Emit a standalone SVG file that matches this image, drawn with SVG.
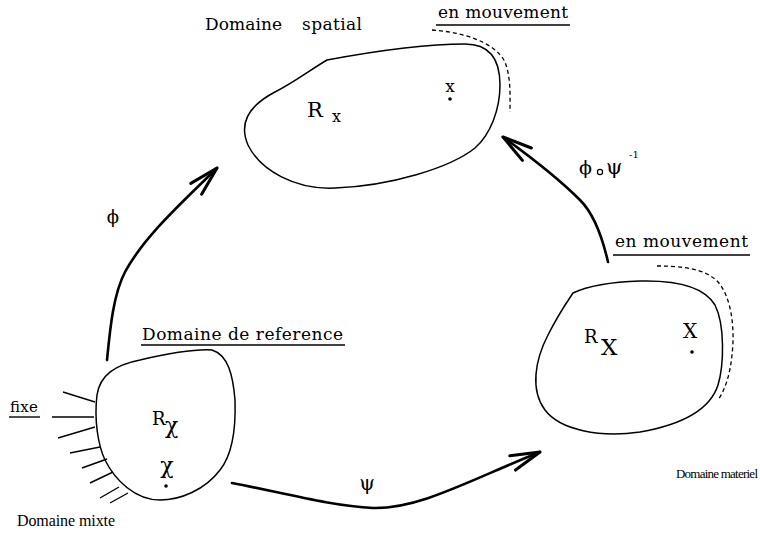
<svg xmlns="http://www.w3.org/2000/svg" width="760" height="534" viewBox="0 0 760 534">
<style>
.blob{fill:none;stroke:#000;stroke-width:1.5}
.dash{fill:none;stroke:#000;stroke-width:1.3;stroke-dasharray:4 3}
.arr{fill:none;stroke:#000;stroke-width:2.6;stroke-linecap:round;marker-end:url(#ah)}
.hatch{stroke:#000;stroke-width:1.4}
.ul{stroke:#000;stroke-width:1.4}
text{font-family:"DejaVu Serif","Liberation Serif",serif;fill:#000}
.t{font-size:17px}
.s{font-family:"Liberation Serif","DejaVu Serif",serif}
</style>
<defs>
<marker id="ah" markerUnits="userSpaceOnUse" markerWidth="40" markerHeight="30" viewBox="-30 -12 34 24" refX="0" refY="0" orient="auto">
<path d="M-25,-6.5 L0,0 L-25,6.5" fill="none" stroke="#000" stroke-width="2.6" stroke-linecap="round" stroke-linejoin="round"/>
</marker>
</defs>

<g id="spatial">
<path class="blob" d="M327,60 C370,52 420,44 465,44 C490,44 500,60 500,85 C500,110 490,135 475,148 C450,168 390,186 335,188 C295,190 260,170 248,145 C238,122 250,105 275,92 C295,82 310,70 327,60 Z"/>
<path class="dash" d="M432,30 C462,32 495,42 505,62 C511,78 510,95 510,112"/>
<text class="t" x="205" y="30" textLength="77" lengthAdjust="spacing">Domaine</text>
<text class="t" x="302" y="30" textLength="60" lengthAdjust="spacing">spatial</text>
<text class="t" x="438" y="18" textLength="130" lengthAdjust="spacing">en mouvement</text>
<line class="ul" x1="436" y1="25" x2="570" y2="25"/>
<text x="307" y="117" font-size="21">R</text>
<text x="332" y="122" font-size="16">x</text>
<text x="450" y="92" font-size="17" text-anchor="middle">x</text>
<circle cx="450" cy="99" r="1.8"/>
</g>

<g id="reference">
<path class="blob" d="M97,395 C100,375 115,365 140,360 C170,353 195,349 212,350 C228,355 233,375 235,400 C236,430 232,455 220,470 C205,490 180,500 160,500 C135,500 115,480 105,460 C98,445 94,420 97,395 Z"/>
<line class="hatch" x1="63" y1="392" x2="95" y2="402"/>
<line class="hatch" x1="52" y1="417" x2="94" y2="417"/>
<line class="hatch" x1="58" y1="438" x2="95" y2="427"/>
<line class="hatch" x1="70" y1="453" x2="100" y2="447"/>
<line class="hatch" x1="82" y1="468" x2="107" y2="459"/>
<line class="hatch" x1="90" y1="483" x2="113" y2="472"/>
<line class="hatch" x1="100" y1="498" x2="119" y2="487"/>
<line class="hatch" x1="110" y1="503" x2="128" y2="493"/>
<text class="t" x="142" y="340" textLength="201" lengthAdjust="spacing">Domaine de reference</text>
<line class="ul" x1="141" y1="345" x2="345" y2="345"/>
<text x="10" y="412" font-size="15" textLength="28" lengthAdjust="spacing">fixe</text>
<line class="ul" x1="9" y1="417" x2="40" y2="417"/>
<text class="s" x="17" y="526" font-size="16" textLength="98" lengthAdjust="spacing">Domaine mixte</text>
<text x="152" y="425" font-size="18">R</text>
<text x="165" y="433" font-size="22">χ</text>
<text x="167" y="473" font-size="22" text-anchor="middle">χ</text>
<circle cx="166" cy="486" r="1.8"/>
</g>

<g id="materiel">
<path class="blob" d="M573,293 C590,285 610,282 640,281 C680,280 705,288 715,305 C725,325 724,365 718,385 C710,410 680,425 640,432 C600,438 560,430 545,410 C530,390 535,360 548,335 C558,315 565,305 573,293 Z"/>
<path class="dash" d="M657,266 C680,266 705,268 718,282 C732,298 735,330 732,355 C730,375 725,390 718,400"/>
<text class="t" x="615" y="247" textLength="133" lengthAdjust="spacing">en mouvement</text>
<line class="ul" x1="613" y1="255" x2="750" y2="255"/>
<text class="s" x="676" y="478" font-size="13" textLength="82" lengthAdjust="spacing">Domaine materiel</text>
<text x="584" y="343" font-size="18">R</text>
<text x="601" y="355" font-size="23">X</text>
<text x="690" y="338" font-size="20" text-anchor="middle">X</text>
<circle cx="692" cy="352" r="1.8"/>
</g>

<g id="connectors">
<path class="arr" d="M107,360 C110,330 113,295 125,272 C145,235 185,200 217,168"/>
<path class="arr" d="M608,262 C603,240 595,215 580,200 C560,180 528,155 503,137"/>
<path class="arr" d="M232,483 C280,492 330,506 373,508 C420,509 470,480 540,452"/>
<text x="113" y="223" font-size="18" text-anchor="middle">ϕ</text>
<text x="367" y="490" font-size="20" text-anchor="middle">ψ</text>
<text x="579" y="174" font-size="19">ϕ</text>
<circle cx="600" cy="172" r="2.6" fill="none" stroke="#000" stroke-width="1.2"/>
<text x="606" y="174" font-size="21">ψ</text>
<text x="629" y="158" font-size="10">-1</text>
</g>
</svg>
